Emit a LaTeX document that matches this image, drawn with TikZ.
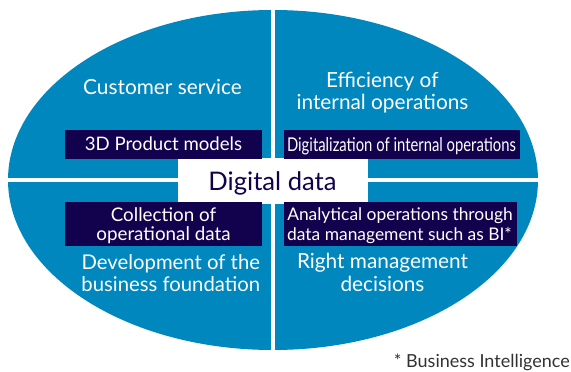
\documentclass[tikz,border=0pt]{standalone}
\usepackage{fontspec}
\setmainfont{Lato}
\definecolor{qblue}{RGB}{0,135,190}
\definecolor{navy}{RGB}{18,2,78}
\definecolor{fgray}{RGB}{50,50,50}
\begin{document}
\begin{tikzpicture}[x=1pt,y=-1pt,
  lbl/.style={text=white,font=\fontsize{20.8}{23}\selectfont,anchor=base,inner sep=0},
  tagbox/.style={fill=navy,inner sep=0},
  tagtxt/.style={text=white,anchor=base,inner sep=0}]
\useasboundingbox (0,0) rectangle (571,372);
\fill[qblue] (273,180) ellipse [x radius=265, y radius=170];
\coordinate (vt) at (273,0);
\coordinate (vb) at (273,360);
\coordinate (hl) at (0,180);
\coordinate (hr) at (545,180);
\draw[white,line width=4pt] (vt) -- (vb);
\draw[white,line width=4pt] (hl) -- (hr);
\node[fill=white,minimum width=190pt,minimum height=46pt,inner sep=0] (center) at (273,180.5) {};
\node[text=navy,font=\fontsize{25.6}{28}\selectfont,anchor=base,inner sep=0] (dd) at (272.5,190) {Digital data};
% quadrant labels
\node[lbl] (cs) at (162.5,94) {Customer service};
\node[lbl] (eff1) at (382.3,87.3) {Efficiency of};
\node[lbl] (eff2) at (382.5,109.3) {internal operations};
\node[lbl,font=\fontsize{20.3}{23}\selectfont] (dev1) at (170.8,269) {Development of the};
\node[lbl,font=\fontsize{20.3}{23}\selectfont] (dev2) at (170.8,291.5) {business foundation};
\node[lbl] (rmd1) at (382.5,268.3) {Right management};
\node[lbl] (rmd2) at (382.5,291) {decisions};
% navy boxes
\fill[navy] (65,130) rectangle (262,159);
\fill[navy] (284,130) rectangle (520,159);
\fill[navy] (65,202) rectangle (262,246);
\fill[navy] (284,202) rectangle (517,246);
\node[tagtxt,font=\fontsize{18.6}{20}\selectfont] (pm) at (163.5,150.7) {3D Product models};
\node[tagtxt,font=\fontsize{19}{20}\selectfont] (dig) at (401.5,151.3) {\scalebox{0.78}[1]{Digitalization of internal operations}};
\node[tagtxt,font=\fontsize{18.8}{20}\selectfont] (col1) at (163.5,221) {Collection of};
\node[tagtxt,font=\fontsize{18.8}{20}\selectfont] (col2) at (163.5,240) {operational data};
\node[tagtxt,font=\fontsize{17.4}{20}\selectfont] (ana1) at (400,220.7) {Analytical operations through};
\node[tagtxt,font=\fontsize{17.4}{20}\selectfont] (ana2) at (399.5,240) {data management such as BI*};
\node[text=fgray,font=\fontsize{18}{20}\selectfont,anchor=base east,inner sep=0] (fn) at (570,367.7) {* Business Intelligence};
\end{tikzpicture}
\end{document}
